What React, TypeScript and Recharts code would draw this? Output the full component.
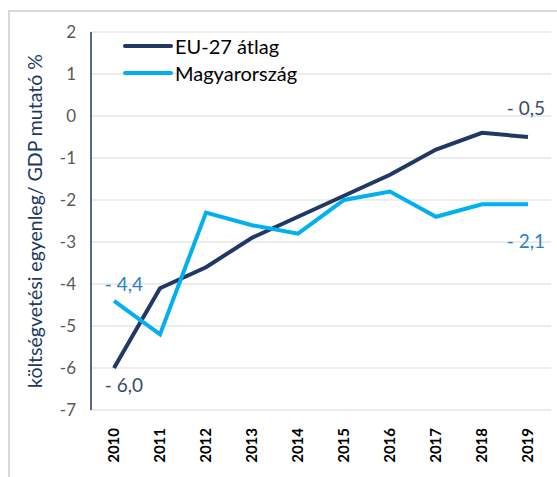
import { LineChart, Line, XAxis, YAxis, CartesianGrid, LabelList } from 'recharts';

const years = ['2010', '2011', '2012', '2013', '2014', '2015', '2016', '2017', '2018', '2019'];
const euAvg = [-6.0, -4.1, -3.6, -2.9, -2.4, -1.9, -1.4, -0.8, -0.4, -0.5];
const hungary = [-4.4, -5.2, -2.3, -2.6, -2.8, -2.0, -1.8, -2.4, -2.1, -2.1];
const yTicks = [2, 1, 0, -1, -2, -3, -4, -5, -6, -7];

const data = years.map((year, i) => ({ year, eu: euAvg[i], hu: hungary[i] }));

const FONT = 'Lato, "Open Sans", sans-serif';
const NAVY = '#203864';
const CYAN = '#00B0F0';

const series = [
  { key: 'eu', name: 'EU-27 átlag', color: NAVY },
  { key: 'hu', name: 'Magyarország', color: CYAN },
];

const fmt = (v: number) => '- ' + Math.abs(v).toFixed(1).replace('.', ',');

// only first and last points get a label
function EdgeLabel(props: any, color: string, dyFirst: number, dyLast: number) {
  const { x, y, index, value } = props;
  if (index !== 0 && index !== years.length - 1) return null;
  const dy = index === 0 ? dyFirst : dyLast;
  return (
    <text x={x + (index === 0 ? 10 : -2)} y={y + dy} textAnchor="middle" fill={color} style={{ fontSize: 19, fontFamily: FONT }}>
      {fmt(value)}
    </text>
  );
}

function YearTick({ x, y, payload }: any) {
  return (
    <g transform={`translate(${x},${y})`}>
      <text transform="rotate(-90)" x={-10} y={0} dy={5} textAnchor="end" fill="#000" style={{ fontSize: 15, fontWeight: 'bold', fontFamily: FONT }}>
        {payload.value}
      </text>
    </g>
  );
}

export default function App() {
  return (
    <div style={{ position: 'fixed', top: 0, left: 0, width: 557, height: 477, overflow: 'hidden', background: '#fff' }}>
      <div style={{ position: 'absolute', left: 8, top: 10, width: 600, height: 520, border: '2px solid #d9d9d9' }} />
      <div style={{ position: 'absolute', left: 0, top: 0 }}>
        <LineChart width={557} height={477} data={data} margin={{ top: 32, right: 6, bottom: 0, left: 51 }}>
          <CartesianGrid horizontal vertical={false} stroke="#d9d9d9" />
          <XAxis dataKey="year" axisLine={false} tickLine={false} tick={<YearTick />} height={67} interval={0} padding={{ left: 23, right: 23 }} />
          <YAxis
            type="number"
            domain={[-7, 2]}
            ticks={yTicks}
            interval={0}
            width={40}
            axisLine={{ stroke: NAVY, strokeWidth: 1.5 }}
            tickLine={false}
            tickSize={0}
            tickMargin={15}
            tick={{ fill: '#595959', fontSize: 17, fontFamily: FONT }}
            label={{
              content: (p: any) => {
                const vb = p.viewBox;
                const cy = vb.y + vb.height / 2;
                return (
                  <text x={34} y={cy} transform={`rotate(-90, 34, ${cy})`} textAnchor="middle" dominantBaseline="central" fill={NAVY} style={{ fontSize: 19.5, fontFamily: FONT }}>
                    költségvetési egyenleg/ GDP mutató %
                  </text>
                );
              },
            }}
          />
          <Line dataKey="eu" name="EU-27 átlag" stroke={NAVY} strokeWidth={4} dot={false} isAnimationActive={false}>
            <LabelList dataKey="eu" content={(p: any) => EdgeLabel(p, '#3B4B6B', 24, -22)} />
          </Line>
          <Line dataKey="hu" name="Magyarország" stroke={CYAN} strokeWidth={4} dot={false} isAnimationActive={false}>
            <LabelList dataKey="hu" content={(p: any) => EdgeLabel(p, '#2E80C6', -10, 44)} />
          </Line>
        </LineChart>
      </div>
      <div style={{ position: 'absolute', left: 123, top: 32, fontFamily: FONT, fontSize: 20, color: '#000' }}>
        {series.map((s) => (
          <div key={s.key} style={{ display: 'flex', alignItems: 'center', height: 27 }}>
            <div style={{ width: 50, height: 4, background: s.color, borderRadius: 2, marginRight: 2 }} />
            <span>{s.name}</span>
          </div>
        ))}
      </div>
    </div>
  );
}
